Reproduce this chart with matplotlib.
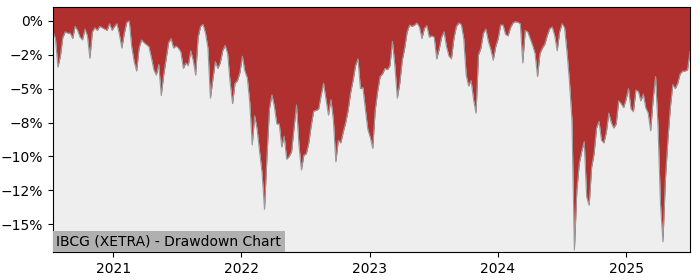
import numpy as np
import pandas as pd
import matplotlib
matplotlib.use("Agg")
import matplotlib.pyplot as plt
import matplotlib.dates as mdates
from matplotlib.ticker import PercentFormatter, MultipleLocator

# weekly drawdown (%)
start_date = "2020-07-14"
drawdown = [
    -0.8, -1.3, -3.4, -2.6, -1.2, -0.8, -0.9, -0.9, -1.3, -0.4,
    -0.7, -1.2, -1.4, -0.6, -1.1, -2.75, -0.8, -0.5, -0.7, -0.4,
    -0.5, -0.6, -0.7, -0.2, -0.7, -0.4, -0.2, -1.0, -2.0, -0.9,
    -0.1, 0.0, -1.9, -3.0, -3.7, -2.0, -1.4, -1.6, -1.75, -1.9,
    -2.7, -3.6, -4.0, -3.2, -5.5, -4.0, -2.8, -1.6, -1.3, -2.0,
    -1.85, -2.0, -2.3, -3.5, -3.1, -3.3, -2.2, -2.9, -4.0, -1.2,
    -0.4, -0.25, -0.9, -2.0, -5.7, -4.3, -3.0, -3.5, -3.1, -2.2,
    -1.8, -2.4, -4.5, -6.1, -4.6, -4.4, -3.8, -2.6, -3.7, -4.2,
    -6.0, -9.15, -7.0, -8.0, -9.65, -11.2, -13.9, -10.0, -6.5, -5.45,
    -6.3, -7.6, -7.6, -9.3, -8.5, -10.2, -10.0, -9.65, -7.9, -6.2,
    -9.15, -11.0, -9.9, -9.8, -9.0, -7.7, -6.65, -6.6, -6.5, -5.5,
    -4.6, -5.8, -6.95, -5.8, -7.3, -10.4, -8.8, -9.0, -8.2, -7.5,
    -6.6, -5.3, -4.4, -3.3, -2.8, -5.0, -4.9, -6.5, -8.0, -8.6,
    -9.4, -6.6, -5.2, -4.1, -3.9, -3.5, -3.6, -3.3, -1.5, -3.3,
    -5.7, -4.6, -2.9, -2.0, -0.8, -0.3, -0.4, -0.3, -0.15, -0.45,
    -1.3, -0.55, -0.35, -1.2, -1.1, -1.2, -2.8, -2.1, -1.2, -0.8,
    -1.9, -2.6, -2.8, -1.3, -0.4, -0.15, -0.25, -1.3, -4.0, -4.8,
    -4.4, -5.8, -6.8, -2.5, -2.0, -0.9, -0.6, -1.5, -2.1, -2.9,
    -1.9, -1.3, -0.3, -0.3, -1.0, -1.1, -0.5, -0.15, -0.05, -0.1,
    -0.2, -3.1, -0.7, -0.8, -1.3, -1.8, -2.4, -4.1, -2.4, -2.0,
    -1.7, -1.05, -0.55, -0.45, -1.1, -2.2, -0.8, -0.2, -0.5, -2.3,
    -4.5, -7.3, -16.9, -12.5, -10.5, -9.6, -8.9, -13.0, -13.6, -10.8,
    -9.8, -7.9, -7.4, -8.8, -9.0, -8.2, -6.8, -7.5, -7.9, -7.6,
    -5.9, -6.1, -6.4, -5.8, -5.0, -6.5, -6.7, -5.1, -5.2, -5.9,
    -5.4, -6.4, -6.8, -8.1, -5.8, -4.1, -7.8, -13.5, -16.3, -11.7,
    -8.8, -6.4, -4.7, -5.0, -4.6, -3.9, -3.7, -3.7, -3.6, -2.25,
]
title = "IBCG (XETRA) - Drawdown Chart"

dates = pd.date_range(start_date, periods=len(drawdown), freq="7D")
dd = np.array(drawdown)

fig = plt.figure(figsize=(7, 2.8), dpi=100)
ax = fig.add_axes([0.0757, 0.1, 0.91, 0.875])
ax.set_facecolor("#eeeeee")

top = 1.03
ax.fill_between(dates, dd, top, color="#b03030", linewidth=0)
ax.plot(dates, dd, color="#999999", linewidth=0.8)

ax.set_xlim(dates[0], dates[-1])
ax.set_ylim(-17.05, top)
ax.yaxis.set_major_locator(MultipleLocator(2.5))
ax.yaxis.set_major_formatter(PercentFormatter(xmax=100, decimals=0))
ax.xaxis.set_major_locator(mdates.YearLocator())
ax.xaxis.set_major_formatter(mdates.DateFormatter("%Y"))
ax.tick_params(labelsize=10)

# label box sits in the lower-left corner of the axes
ax.annotate(title, xy=(0, 0), xycoords="axes fraction",
            xytext=(2.5, 2.5), textcoords="offset points",
            ha="left", va="bottom", fontsize=10, zorder=5,
            bbox=dict(facecolor="#b0b0b0", edgecolor="none", pad=2.5))

fig.savefig("out.png", dpi=100)
